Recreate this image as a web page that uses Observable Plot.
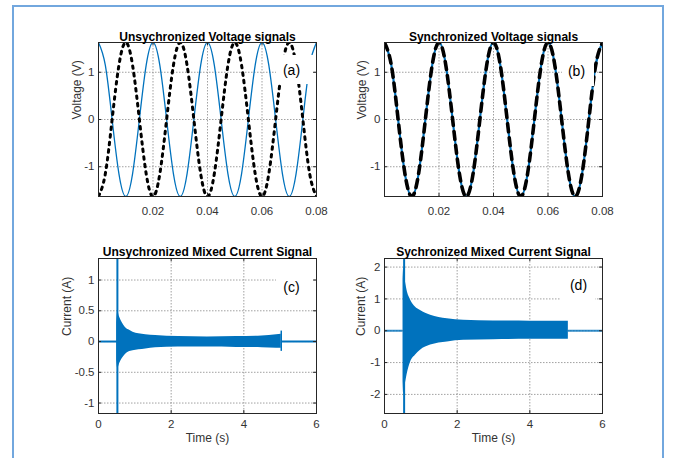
<!DOCTYPE html>
<html><head><meta charset="utf-8">
<script src="https://cdn.jsdelivr.net/npm/d3@7"></script>
<script src="https://cdn.jsdelivr.net/npm/@observablehq/plot@0.6"></script>
<style>
body{margin:0;background:#fff;}
#wrap{position:relative;width:680px;height:458px;overflow:hidden;background:#fff;font-family:"Liberation Sans",Arial,sans-serif;}
#border{position:absolute;left:12px;top:5px;width:652px;height:520px;border:2px solid #72a7de;box-sizing:border-box;}
.panel{position:absolute;}
</style></head><body><div id="wrap"><div id="border"></div></div>
<script>
const blue = "#0072BD";

// ---------- DATA ----------
// Voltage panels: time (s) and voltage (V) samples
const tV = [0,0.0025,0.005,0.0075,0.01,0.0125,0.015,0.0175,0.02,0.0225,0.025,0.0275,0.03,0.0325,0.035,0.0375,0.04,0.0425,0.045,0.0475,0.05,0.0525,0.055,0.0575,0.06,0.0625,0.065,0.0675,0.07,0.0725,0.075,0.0775,0.08];
const vUnsyncBlue  = [1.63,1.15,0,-1.15,-1.63,-1.15,0,1.15,1.63,1.15,0,-1.15,-1.63,-1.15,0,1.15,1.63,1.15,0,-1.15,-1.63,-1.15,0,1.15,1.63,1.15,0,-1.15,-1.63,-1.15,0,1.15,1.63];
const vUnsyncBlack = [-1.63,-1.15,0,1.15,1.63,1.15,0,-1.15,-1.63,-1.15,0,1.15,1.63,1.15,0,-1.15,-1.63,-1.15,0,1.15,1.63,1.15,0,-1.15,-1.63,-1.15,0,1.15,1.63,1.15,0,-1.15,-1.63];
const vSyncBlue    = [1.63,1.15,0,-1.15,-1.63,-1.15,0,1.15,1.63,1.15,0,-1.15,-1.63,-1.15,0,1.15,1.63,1.15,0,-1.15,-1.63,-1.15,0,1.15,1.63,1.15,0,-1.15,-1.63,-1.15,0,1.15,1.63];
const vSyncBlack   = [1.63,1.15,0,-1.15,-1.63,-1.15,0,1.15,1.63,1.15,0,-1.15,-1.63,-1.15,0,1.15,1.63,1.15,0,-1.15,-1.63,-1.15,0,1.15,1.63,1.15,0,-1.15,-1.63,-1.15,0,1.15,1.63];
const voltTicksX = [0.02,0.04,0.06,0.08];
const voltGridX = [0.02,0.04,0.06];
const voltTicksY = [-1,0,1];

// Current panel (c): envelope of the dense oscillation
const tEnvC = [0.50,0.53,0.58,0.65,0.74,0.83,0.95,1.11,1.30,1.57,2.2,3.0,3.8,4.5,4.9,5.03];
const hiC   = [0.30,0.49,0.40,0.31,0.23,0.19,0.15,0.125,0.11,0.098,0.08,0.075,0.08,0.09,0.11,0.12];
const loC   = [-0.30,-0.44,-0.36,-0.28,-0.21,-0.17,-0.15,-0.135,-0.12,-0.10,-0.09,-0.09,-0.095,-0.10,-0.11,-0.11];
const spikeC = [0.52];
const endSpikeC = [{t:5.03, lo:-0.16, hi:0.17}];
const quietC = [{t1:0, t2:0.52},{t1:5.03, t2:6}];
const cTicksY = [-1,-0.5,0,0.5,1];

// Current panel (d)
const tEnvD = [0.51,0.53,0.57,0.62,0.72,0.85,0.99,1.27,1.73,2.18,3.0,4.0,5.06];
const hiD   = [1.6,2.0,1.6,1.27,0.96,0.75,0.64,0.49,0.38,0.33,0.31,0.30,0.30];
const loD   = [-1.6,-2.0,-1.7,-1.39,-0.98,-0.77,-0.61,-0.45,-0.35,-0.30,-0.28,-0.27,-0.27];
const spikeD = [0.54];
const quietD = [{t1:0, t2:0.51},{t1:5.06, t2:6}];
const dTicksY = [-2,-1,0,1,2];

const curTicksX = [0,2,4,6];
const curGridX = [2,4];

const titles = ["Unsychronized Voltage signals","Synchronized Voltage signals","Unsychronized Mixed Current Signal","Sychronized Mixed Current Signal"];
const tags = ["(a)","(b)","(c)","(d)"];

// ---------- helpers ----------
const volt = (t, v) => t.map((d,i) => ({t:d, v:v[i]}));
const env = (t, hi, lo) => t.map((d,i) => ({t:d, hi:hi[i], lo:lo[i]}));
const fmt = d => String(d);

function panel(cfg) {
  const fw = cfg.width - cfg.mL - cfg.mR, fh = cfg.height - cfg.mT - cfg.mB;
  const ink = "#262626";
  const svg = Plot.plot({
    width: cfg.width, height: cfg.height,
    marginLeft: cfg.mL, marginRight: cfg.mR, marginTop: cfg.mT, marginBottom: cfg.mB,
    x: {domain: cfg.xDomain}, y: {domain: cfg.yDomain},
    style: {fontFamily: "'Liberation Sans', Arial, sans-serif", fontSize: "11.5px", background: "transparent", overflow: "visible"},
    marks: [
      Plot.gridX(cfg.gridX, {stroke: "#8a8a8a", strokeOpacity: 0.8, strokeDasharray: "1.5,1.5"}),
      Plot.gridY(cfg.yTicks, {stroke: "#8a8a8a", strokeOpacity: 0.8, strokeDasharray: "1.5,1.5"}),
      ...cfg.marks,
      Plot.rect([0], {fill: "white", insetLeft: cfg.box[0], insetRight: cfg.box[1], insetTop: cfg.box[2], insetBottom: cfg.box[3]}),
      Plot.text([cfg.tag], {text: d => d, frameAnchor: "top-right", dx: cfg.tagPos[0], dy: cfg.tagPos[1], fontSize: 14, fill: "#000", textAnchor: "middle", lineAnchor: "middle"}),
      Plot.frame({stroke: ink}),
      Plot.tickX(cfg.xTicks, {x: d => d, insetTop: fh - 3, stroke: ink}),
      Plot.tickX(cfg.xTicks, {x: d => d, insetBottom: fh - 3, stroke: ink}),
      Plot.tickY(cfg.yTicks, {y: d => d, insetRight: fw - 3, stroke: ink}),
      Plot.tickY(cfg.yTicks, {y: d => d, insetLeft: fw - 3, stroke: ink}),
      Plot.axisX({ticks: cfg.xTicks, tickSize: 0, tickPadding: cfg.xPad, label: null, tickFormat: cfg.xFmt, color: "#333", fontSize: 11.5}),
      Plot.axisY({ticks: cfg.yTicks, tickSize: 0, tickPadding: 4, label: null, tickFormat: fmt, color: "#333", fontSize: 11.5}),
      Plot.text([cfg.title], {text: d => d, frameAnchor: "top", dy: cfg.titleDy, fontWeight: "bold", fontSize: 12, fill: "#000"}),
      Plot.text([cfg.ylabel], {text: d => d, frameAnchor: "left", rotate: -90, dx: cfg.ylabelDx, fontSize: 12, fill: "#333"}),
      ...(cfg.xlabel ? [Plot.text([cfg.xlabel], {text: d => d, frameAnchor: "bottom", dy: 28, fontSize: 12, fill: "#333"})] : [])
    ]
  });
  svg.classList.add("panel");
  svg.style.left = cfg.left + "px";
  svg.style.top = cfg.top + "px";
  document.getElementById("wrap").appendChild(svg);
}

const topBase = {top: 0, width: 340, height: 230, mT: 42, mB: 34, xDomain: [0, 0.08], yDomain: [-1.63, 1.63],
  xTicks: voltTicksX, gridX: voltGridX, yTicks: voltTicksY, xFmt: d => d.toFixed(2), xPad: 10, titleDy: -10, ylabel: "Voltage (V)"};
const botBase = {top: 230, width: 340, height: 228, mT: 28, mB: 45, xDomain: [0, 6],
  xTicks: curTicksX, gridX: curGridX, xFmt: fmt, xPad: 6, titleDy: -11, ylabel: "Current (A)", xlabel: "Time (s)"};

// (a)
panel({...topBase, left: 0, mL: 98, mR: 24, title: titles[0], tag: tags[0], ylabelDx: -21,
  tagPos: [-25, 28], box: [178, 3, 13, 112],
  marks: [
    Plot.line(volt(tV, vUnsyncBlue), {x: "t", y: "v", curve: "natural", stroke: blue, strokeWidth: 1.3, clip: true}),
    Plot.line(volt(tV, vUnsyncBlack), {x: "t", y: "v", curve: "natural", stroke: "#000", strokeWidth: 3, strokeDasharray: "2.6,5", clip: true})
  ]});
// (b)
panel({...topBase, left: 340, mL: 44, mR: 78, title: titles[1], tag: tags[1], ylabelDx: -22,
  tagPos: [-26, 29], box: [178, 8, 14, 110],
  marks: [
    Plot.line(volt(tV, vSyncBlue), {x: "t", y: "v", curve: "natural", stroke: blue, strokeWidth: 2.2, clip: true}),
    Plot.line(volt(tV, vSyncBlack), {x: "t", y: "v", curve: "natural", stroke: "#000", strokeWidth: 3.6, strokeDasharray: "8,6", clip: true})
  ]});
// (c)
panel({...botBase, left: 0, mL: 98, mR: 24, yDomain: [-1.17, 1.35], yTicks: cTicksY, title: titles[2], tag: tags[2], ylabelDx: -31,
  tagPos: [-25, 29], box: [178, 3, 15, 111],
  marks: [
    Plot.ruleY(quietC, {x1: "t1", x2: "t2", y: 0, stroke: blue, strokeWidth: 2}),
    Plot.areaY(env(tEnvC, hiC, loC), {x: "t", y1: "lo", y2: "hi", fill: blue, curve: "monotone-x"}),
    Plot.ruleX(endSpikeC, {x: "t", y1: "lo", y2: "hi", stroke: blue, strokeWidth: 1.5}),
    Plot.ruleX(spikeC, {stroke: blue, strokeWidth: 2})
  ]});
// (d)
panel({...botBase, left: 340, mL: 44, mR: 78, yDomain: [-2.6, 2.27], yTicks: dTicksY, title: titles[3], tag: tags[3], ylabelDx: -23,
  tagPos: [-24, 27], box: [177, 7, 12, 113],
  marks: [
    Plot.ruleY(quietD, {x1: "t1", x2: "t2", y: 0, stroke: blue, strokeWidth: 2, strokeOpacity: 0.8}),
    Plot.areaY(env(tEnvD, hiD, loD), {x: "t", y1: "lo", y2: "hi", fill: blue, curve: "monotone-x"}),
    Plot.ruleX(spikeD, {stroke: blue, strokeWidth: 2})
  ]});
</script>
</body></html>
